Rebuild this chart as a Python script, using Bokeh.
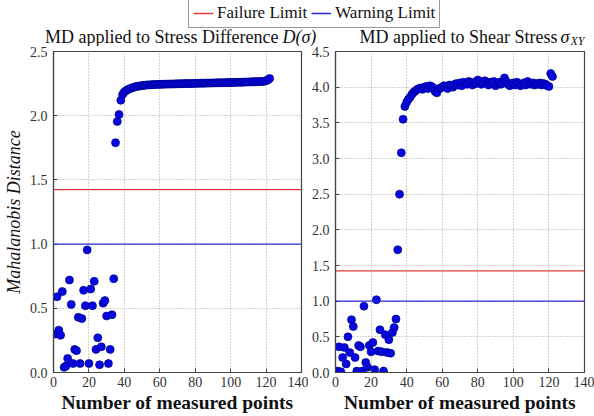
from bokeh.plotting import figure
from bokeh.models import (Range1d, Label, Legend, LegendItem, FixedTicker,
                          PrintfTickFormatter, Span, ColumnDataSource)
from bokeh.layouts import column, row
from bokeh.embed import file_html
from bokeh.resources import INLINE

# ---------------- data ----------------
x_points = list(range(1, 123))

stress_diff_md = [
    0.30, 0.59, 0.33, 0.29, 0.63, 0.04, 0.05, 0.11, 0.72, 0.53,
    0.07, 0.18, 0.17, 0.43, 0.07, 0.42, 0.64, 0.52, 0.955, 0.07,
    0.65, 0.52, 0.71, 0.18, 0.27, 0.06, 0.20, 0.54, 0.56, 0.44,
    0.07, 0.18, 0.45, 0.73,
    1.79, 1.955, 2.01, 2.12, 2.165, 2.185, 2.195, 2.205, 2.21, 2.215,
    2.22, 2.225, 2.228, 2.23, 2.232, 2.235, 2.236, 2.238, 2.24, 2.24,
    2.241, 2.242, 2.243, 2.243, 2.244, 2.244, 2.245, 2.245, 2.246, 2.246,
    2.246, 2.247, 2.247, 2.247, 2.248, 2.248, 2.249, 2.249, 2.249, 2.25,
    2.25, 2.25, 2.25, 2.251, 2.251, 2.252, 2.252, 2.252, 2.253, 2.253,
    2.253, 2.254, 2.254, 2.254, 2.255, 2.255, 2.255, 2.256, 2.256, 2.256,
    2.257, 2.257, 2.257, 2.258, 2.258, 2.258, 2.259, 2.259, 2.26, 2.26,
    2.26, 2.261, 2.261, 2.262, 2.262, 2.263, 2.263, 2.264, 2.264, 2.265,
    2.265, 2.266, 2.266, 2.267, 2.268, 2.272, 2.279, 2.29,
]

shear_stress_md = [
    0.02, 0.36, 0.01, 0.21, 0.35, 0.12, 0.50, 0.28, 0.74, 0.645,
    0.21, 0.02, 0.38, 0.36, 0.02, 0.93, 0.14, 0.075, 0.38, 0.29,
    0.42, 0.04, 1.02, 0.30, 0.60, 0.29, 0.02, 0.53, 0.28, 0.46,
    0.27, 0.56, 0.63, 0.75,
    1.72, 2.50, 3.08, 3.55, 3.73, 3.79, 3.83, 3.86, 3.90, 3.93,
    3.95, 3.97, 3.98, 3.99, 3.97, 4.00, 4.01, 3.98, 4.02, 4.01,
    3.99, 3.94, 3.92, 3.97, 3.99, 4.00, 4.02, 4.01, 3.98, 4.03,
    4.02, 4.00, 4.04, 4.05, 4.03, 4.06, 4.02, 4.07, 4.05, 4.04,
    4.08, 4.06, 4.03, 4.07, 4.05, 4.10, 4.08, 4.04, 4.06, 4.09,
    4.05, 4.03, 4.07, 4.06, 4.08, 4.02, 4.05, 4.07, 4.04, 4.06,
    4.13, 4.08, 4.04, 4.02, 4.05, 4.06, 4.03, 4.07, 4.05, 4.02,
    4.04, 4.06, 4.03, 4.08, 4.05, 4.04, 4.06, 4.03, 4.05, 4.04,
    4.06, 4.03, 4.05, 4.04, 4.02, 4.01, 4.19, 4.15,
]

failure_limit = 1.425
warning_limit = 1.0

x_ticks = [0, 20, 40, 60, 80, 100, 120, 140]
y_ticks_left = [0.0, 0.5, 1.0, 1.5, 2.0, 2.5]
y_ticks_right = [0.0, 0.5, 1.0, 1.5, 2.0, 2.5, 3.0, 3.5, 4.0, 4.5]

legend_labels = ["Failure Limit", "Warning Limit"]
x_label = "Number of measured points"
y_label = "Mahalanobis Distance"
title_left = ["MD applied to Stress Difference", "D(σ)"]
title_right = ["MD applied to Shear Stress", "σ", "XY"]

# legend proxy (a one-point line draws nothing; it only gives the legend its style)
legend_proxy_x = [-1.0]
legend_proxy_y = [-1.0]

# ---------------- style ----------------
SERIF = "Liberation Serif"
RED = "#e03a3a"
BLUE = "#2a2ae0"
DOT_FILL = "#0707e0"
DOT_LINE = "#00008a"
FRAME = "#444444"
TXT = "#111111"
STRIP_H = 46


def make_panel(width, border_left, border_right, y_max, y_ticks, values, show_ylabel):
    p = figure(width=width, height=416 - STRIP_H, x_range=Range1d(0, 140), y_range=Range1d(0, y_max),
               toolbar_location=None, output_backend="svg",
               min_border_left=border_left, min_border_right=border_right,
               min_border_top=51 - STRIP_H, min_border_bottom=44)
    p.background_fill_color = "white"
    p.border_fill_color = "white"
    p.outline_line_color = FRAME
    p.outline_line_width = 1.2

    p.xaxis.ticker = FixedTicker(ticks=x_ticks)
    p.yaxis.ticker = FixedTicker(ticks=y_ticks)
    p.yaxis.formatter = PrintfTickFormatter(format="%.1f")
    for ax in (p.xaxis, p.yaxis):
        ax.major_tick_in = 4
        ax.major_tick_out = 0
        ax.minor_tick_line_color = None
        ax.axis_line_color = FRAME
        ax.axis_line_width = 1.2
        ax.major_tick_line_color = FRAME
        ax.major_label_text_font = SERIF
        ax.major_label_text_font_size = "14px"
        ax.major_label_text_color = "#333333"
    p.xaxis.major_label_standoff = 4
    p.yaxis.major_label_standoff = 6

    p.xaxis.axis_label = x_label
    p.xaxis.axis_label_text_font = SERIF
    p.xaxis.axis_label_text_font_style = "bold"
    p.xaxis.axis_label_text_font_size = "19.5px"
    p.xaxis.axis_label_text_color = TXT
    p.xaxis.axis_label_standoff = 2
    if show_ylabel:
        p.yaxis.axis_label = y_label
        p.yaxis.axis_label_text_font = SERIF
        p.yaxis.axis_label_text_font_style = "italic"
        p.yaxis.axis_label_text_font_size = "18px"
        p.yaxis.axis_label_text_color = TXT
        p.yaxis.axis_label_standoff = 3

    p.grid.grid_line_color = "#a8a8a8"
    p.grid.grid_line_dash = "1 2"
    p.grid.grid_line_width = 1

    p.add_layout(Span(location=failure_limit, dimension="width", line_color=RED, line_width=1.2))
    p.add_layout(Span(location=warning_limit, dimension="width", line_color=BLUE, line_width=1.2))

    src = ColumnDataSource(dict(x=x_points, y=values))
    p.scatter("x", "y", source=src, size=8, fill_color=DOT_FILL, line_color=DOT_LINE, line_width=0.7)
    return p


p1 = make_panel(308, 51, 7, 2.5, y_ticks_left, stress_diff_md, True)
p2 = make_panel(286, 26, 10, 4.5, y_ticks_right, shear_stress_md, False)

# ---------------- top strip: legend + panel titles (pixel coordinates) ----------------
strip = figure(width=594, height=STRIP_H, x_range=Range1d(0, 594), y_range=Range1d(STRIP_H, 0),
               toolbar_location=None, output_backend="svg", min_border=0,
               x_axis_location=None, y_axis_location=None)
strip.grid.visible = False
strip.outline_line_color = None
strip.background_fill_color = "white"
strip.border_fill_color = "white"


def title_label(x, y, text, align, size="18px", style="normal"):
    strip.add_layout(Label(x=x, y=y, text=text, text_align=align, text_baseline="alphabetic",
                           text_font=SERIF, text_font_size=size, text_font_style=style,
                           text_color=TXT))


TB = 36.5   # title baseline (as placed in this strip)
title_label(278, TB, title_left[0], "right")
title_label(282, TB, title_left[1], "left", style="italic")
title_label(557, TB, title_right[0], "right")
title_label(560, TB, title_right[1], "left", style="italic")
title_label(570, TB + 3.5, title_right[2], "left", size="12px", style="italic")

r_fail = strip.line(x=legend_proxy_x, y=legend_proxy_y, line_color=RED, line_width=1.5)
r_warn = strip.line(x=legend_proxy_x, y=legend_proxy_y, line_color=BLUE, line_width=1.5)
legend = Legend(items=[LegendItem(label=legend_labels[0], renderers=[r_fail]),
                       LegendItem(label=legend_labels[1], renderers=[r_warn])],
                orientation="horizontal", location=(188, 18), margin=0,
                padding=4, spacing=4, glyph_width=20, glyph_height=14, label_height=18,
                label_standoff=4, label_text_font=SERIF, label_text_font_size="17px",
                label_text_color=TXT, border_line_color="#333333", border_line_width=1,
                background_fill_alpha=1)
strip.add_layout(legend, "center")

layout = column(strip, row(p1, p2))
open("out.html", "w").write(file_html(layout, INLINE))
